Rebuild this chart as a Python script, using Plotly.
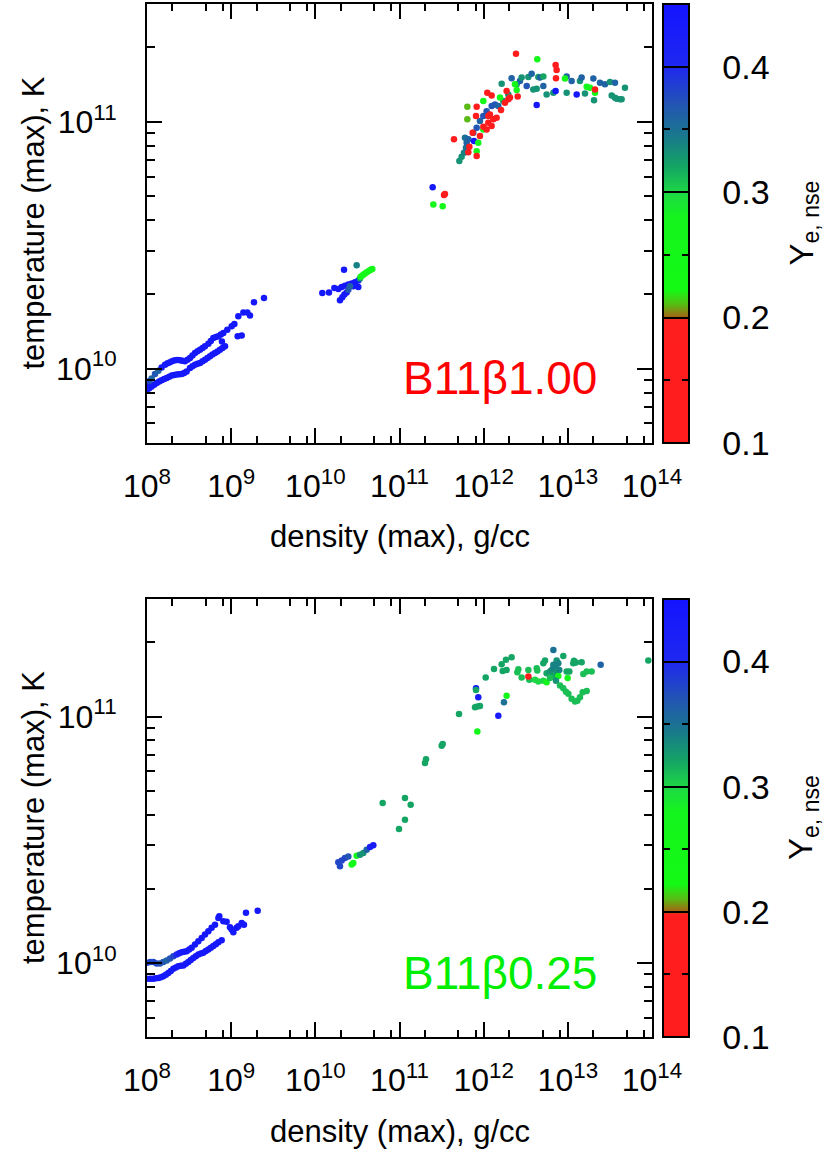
import numpy as np
import plotly.graph_objects as go

W, H = 830, 1151
FONT = "Liberation Sans, Arial, Helvetica, sans-serif"

# ---------------- data: (log10 density [g/cc], log10 temperature [K], Ye_nse) -------------
# Top panel: B11beta1.00
top_low_loop = [
    (8.000, 9.915, 0.44), (8.027, 9.921, 0.44), (8.055, 9.928, 0.44), (8.085, 9.935, 0.44),
    (8.115, 9.942, 0.44), (8.145, 9.948, 0.44), (8.174, 9.953, 0.44), (8.204, 9.958, 0.44),
    (8.234, 9.962, 0.44), (8.264, 9.967, 0.44), (8.293, 9.972, 0.44), (8.322, 9.974, 0.44),
    (8.352, 9.976, 0.44), (8.382, 9.977, 0.44), (8.412, 9.978, 0.44), (8.441, 9.983, 0.44),
    (8.471, 9.989, 0.44), (8.511, 10.003, 0.44), (8.540, 10.010, 0.44), (8.570, 10.016, 0.44),
    (8.600, 10.020, 0.44), (8.630, 10.023, 0.44), (8.660, 10.030, 0.44), (8.689, 10.036, 0.44),
    (8.719, 10.043, 0.44), (8.749, 10.050, 0.44), (8.778, 10.057, 0.44), (8.808, 10.064, 0.44),
    (8.838, 10.070, 0.44), (8.867, 10.077, 0.44), (8.897, 10.084, 0.44), (8.927, 10.091, 0.44),
    (8.890, 10.110, 0.44),
    (8.010, 9.935, 0.44), (8.030, 9.950, 0.38), (8.055, 9.960, 0.36), (8.095, 9.978, 0.37),
    (8.135, 9.992, 0.36), (8.174, 10.005, 0.44), (8.214, 10.016, 0.44), (8.244, 10.022, 0.44),
    (8.273, 10.026, 0.44), (8.303, 10.031, 0.44), (8.333, 10.034, 0.44), (8.362, 10.035, 0.44),
    (8.392, 10.034, 0.44), (8.421, 10.032, 0.44), (8.451, 10.030, 0.44), (8.481, 10.036, 0.44),
    (8.511, 10.043, 0.44), (8.540, 10.053, 0.44), (8.570, 10.064, 0.44), (8.600, 10.071, 0.44),
    (8.630, 10.077, 0.44), (8.660, 10.084, 0.44), (8.689, 10.091, 0.44), (8.729, 10.101, 0.44),
    (8.758, 10.112, 0.44), (8.788, 10.124, 0.44), (8.818, 10.128, 0.44), (8.848, 10.131, 0.44),
    (8.877, 10.138, 0.44), (8.907, 10.145, 0.44), (8.954, 10.158, 0.44), (9.006, 10.172, 0.44),
    (9.038, 10.181, 0.44), (9.085, 10.212, 0.44), (9.145, 10.228, 0.44), (9.192, 10.228, 0.44),
    (9.224, 10.215, 0.44), (9.271, 10.269, 0.44), (9.390, 10.286, 0.44),
    (9.077, 10.131, 0.44), (9.125, 10.134, 0.44),
]
top_mid = [
    (10.083, 10.307, 0.44), (10.162, 10.309, 0.44), (10.226, 10.327, 0.44), (10.273, 10.323, 0.44),
    (10.313, 10.331, 0.44), (10.352, 10.336, 0.44), (10.392, 10.341, 0.44), (10.432, 10.345, 0.44),
    (10.471, 10.350, 0.44), (10.511, 10.357, 0.44), (10.293, 10.277, 0.44), (10.321, 10.289, 0.44),
    (10.345, 10.300, 0.44), (10.372, 10.309, 0.44), (10.341, 10.401, 0.44), (10.511, 10.331, 0.44),
    (10.451, 10.334, 0.44),
    (10.491, 10.419, 0.34), (10.392, 10.320, 0.37), (10.412, 10.334, 0.36), (10.530, 10.365, 0.33),
    (10.539, 10.372, 0.25), (10.562, 10.378, 0.25), (10.586, 10.385, 0.25), (10.610, 10.391, 0.25),
    (10.634, 10.396, 0.25), (10.657, 10.401, 0.25), (10.677, 10.404, 0.25),
    (11.394, 10.735, 0.44), (11.402, 10.665, 0.25),
]
top_band = [
    (11.711, 10.841, 0.33), (11.738, 10.858, 0.33), (11.766, 10.875, 0.34), (11.790, 10.895, 0.35),
    (11.778, 10.935, 0.35), (11.798, 10.915, 0.36), (11.818, 10.929, 0.36), (11.877, 10.956, 0.36),
    (11.917, 10.976, 0.37), (11.956, 11.003, 0.36), (11.996, 11.023, 0.37), (12.035, 11.043, 0.37),
    (12.095, 11.064, 0.37), (12.134, 11.070, 0.37), (12.174, 11.064, 0.36), (12.214, 11.154, 0.33),
    (12.233, 11.084, 0.33), (12.293, 11.111, 0.33), (12.332, 11.176, 0.36), (12.392, 11.152, 0.33),
    (12.431, 11.165, 0.36), (12.451, 11.179, 0.33), (12.511, 11.145, 0.37), (12.531, 11.181, 0.33),
    (12.570, 11.195, 0.36), (12.590, 11.131, 0.33), (12.630, 11.134, 0.33), (12.649, 11.181, 0.32),
    (12.669, 11.179, 0.36), (12.709, 11.183, 0.32), (12.709, 11.145, 0.36), (12.748, 11.111, 0.33),
    (12.828, 11.118, 0.33), (12.986, 11.183, 0.36), (13.045, 11.165, 0.36), (12.986, 11.118, 0.33),
    (13.144, 11.165, 0.33), (13.164, 11.179, 0.36), (13.204, 11.115, 0.33), (13.303, 11.175, 0.36),
    (13.311, 11.087, 0.33), (13.382, 11.158, 0.36), (13.441, 11.152, 0.36), (13.501, 11.161, 0.33),
    (13.521, 11.107, 0.33), (13.560, 11.158, 0.36), (13.580, 11.093, 0.33), (13.639, 11.091, 0.33),
    (13.679, 11.138, 0.33), (13.560, 11.097, 0.33), (13.620, 11.091, 0.33),
]
top_blue_green = [
    (12.630, 11.068, 0.44), (12.855, 11.125, 0.44), (13.105, 11.111, 0.44), (11.885, 10.922, 0.44),
    (11.806, 11.061, 0.21), (11.806, 11.010, 0.21),
    (12.637, 11.253, 0.25), (11.996, 11.084, 0.25), (11.917, 10.881, 0.25), (11.936, 10.915, 0.25),
    (11.996, 10.969, 0.25), (12.372, 11.152, 0.25), (12.392, 11.129, 0.25), (12.194, 11.098, 0.25),
    (12.966, 11.175, 0.25), (13.224, 11.142, 0.25), (13.263, 11.138, 0.25), (13.323, 11.118, 0.25),
    (11.513, 10.658, 0.25),
]
top_red = [
    (12.384, 11.276, 0.12), (11.647, 10.929, 0.12), (11.529, 10.703, 0.12), (11.540, 10.708, 0.12),
    (11.917, 11.061, 0.12), (11.909, 11.023, 0.12), (12.043, 11.118, 0.12), (12.095, 11.107, 0.12),
    (11.869, 10.956, 0.12), (11.830, 10.899, 0.12), (11.818, 10.877, 0.12), (11.917, 10.861, 0.12),
    (11.956, 10.942, 0.12), (12.075, 11.030, 0.12), (12.115, 11.010, 0.12), (12.055, 10.996, 0.12),
    (12.035, 10.969, 0.12), (11.996, 10.980, 0.12), (12.095, 10.983, 0.12), (12.055, 11.023, 0.12),
    (12.154, 11.016, 0.12), (12.206, 11.048, 0.12), (12.253, 11.077, 0.12), (12.293, 11.091, 0.12),
    (12.313, 11.098, 0.12), (12.273, 11.125, 0.12), (12.404, 11.102, 0.12), (12.855, 11.230, 0.12),
    (12.867, 11.210, 0.12), (12.859, 11.176, 0.12), (13.323, 11.131, 0.12),
]

# Bottom panel: B11beta0.25
bot_low_loop = [
    (8.000, 9.935, 0.44), (8.040, 9.935, 0.44), (8.075, 9.935, 0.44), (8.105, 9.937, 0.44),
    (8.135, 9.939, 0.44), (8.165, 9.942, 0.44), (8.194, 9.946, 0.44), (8.224, 9.952, 0.44),
    (8.253, 9.959, 0.44), (8.283, 9.967, 0.44), (8.313, 9.976, 0.44), (8.342, 9.981, 0.44),
    (8.372, 9.986, 0.44), (8.402, 9.988, 0.44), (8.432, 9.989, 0.44), (8.461, 9.996, 0.44),
    (8.491, 10.003, 0.44), (8.520, 10.012, 0.44), (8.550, 10.020, 0.44), (8.580, 10.027, 0.44),
    (8.610, 10.034, 0.44), (8.640, 10.038, 0.44), (8.669, 10.041, 0.44), (8.699, 10.048, 0.44),
    (8.729, 10.054, 0.44), (8.758, 10.061, 0.44), (8.788, 10.068, 0.44), (8.818, 10.076, 0.44),
    (8.848, 10.084, 0.44), (8.887, 10.092, 0.44),
    (8.000, 10.000, 0.39), (8.040, 10.003, 0.38), (8.075, 10.003, 0.38), (8.115, 9.997, 0.38),
    (8.154, 9.997, 0.37), (8.194, 10.003, 0.37), (8.234, 10.010, 0.36), (8.273, 10.018, 0.37),
    (8.313, 10.027, 0.38), (8.352, 10.034, 0.40), (8.382, 10.039, 0.42), (8.412, 10.043, 0.43),
    (8.441, 10.045, 0.44), (8.471, 10.047, 0.44), (8.501, 10.054, 0.44), (8.531, 10.061, 0.44),
    (8.570, 10.074, 0.44), (8.610, 10.088, 0.44), (8.650, 10.101, 0.44), (8.689, 10.115, 0.44),
    (8.729, 10.128, 0.44), (8.768, 10.142, 0.44), (8.808, 10.155, 0.44), (8.848, 10.182, 0.44),
    (8.859, 10.189, 0.44), (8.907, 10.169, 0.44), (8.946, 10.167, 0.44), (8.986, 10.145, 0.44),
    (9.006, 10.135, 0.44), (9.026, 10.124, 0.44), (9.065, 10.142, 0.44), (9.085, 10.149, 0.44),
    (9.125, 10.162, 0.44), (9.152, 10.155, 0.44), (9.176, 10.203, 0.44), (9.315, 10.212, 0.44),
]
bot_mid = [
    (10.273, 10.408, 0.38), (10.293, 10.392, 0.38), (10.313, 10.416, 0.38), (10.352, 10.426, 0.38),
    (10.392, 10.432, 0.37), (10.432, 10.399, 0.25), (10.451, 10.405, 0.25), (10.491, 10.435, 0.25),
    (10.531, 10.439, 0.33), (10.570, 10.446, 0.33), (10.610, 10.459, 0.36), (10.650, 10.470, 0.42),
    (10.689, 10.477, 0.43),
    (10.800, 10.649, 0.32), (11.065, 10.669, 0.32), (11.133, 10.642, 0.32), (11.065, 10.581, 0.32),
    (10.994, 10.543, 0.32), (11.303, 10.811, 0.32), (11.315, 10.827, 0.32), (11.501, 10.881, 0.32),
    (11.513, 10.888, 0.32),
]
bot_high = [
    (11.707, 11.010, 0.32), (11.897, 11.038, 0.32), (11.925, 11.041, 0.32), (11.956, 11.043, 0.32),
    (11.909, 11.115, 0.44), (11.909, 11.108, 0.32), (11.936, 11.078, 0.43), (11.925, 10.939, 0.26),
    (12.024, 11.158, 0.32), (12.123, 11.193, 0.32), (12.214, 11.212, 0.32), (12.265, 11.230, 0.32),
    (12.332, 11.241, 0.32), (12.226, 11.185, 0.32), (12.273, 11.189, 0.32), (12.273, 11.084, 0.26),
    (12.241, 11.058, 0.35), (12.174, 11.003, 0.43), (12.412, 11.192, 0.31), (12.400, 11.180, 0.31),
    (12.451, 11.158, 0.31), (12.531, 11.189, 0.31), (12.542, 11.149, 0.31), (12.610, 11.149, 0.30),
    (12.649, 11.142, 0.30), (12.709, 11.145, 0.30), (12.748, 11.139, 0.28), (12.630, 11.196, 0.31),
    (12.637, 11.187, 0.31), (12.709, 11.216, 0.32), (12.729, 11.227, 0.32), (12.748, 11.176, 0.32),
    (12.788, 11.183, 0.33), (12.808, 11.189, 0.33), (12.828, 11.196, 0.34), (12.859, 11.203, 0.34),
    (12.867, 11.227, 0.33), (12.887, 11.216, 0.34), (12.847, 11.169, 0.32), (12.820, 11.162, 0.32),
    (12.788, 11.156, 0.31), (12.828, 11.210, 0.34), (12.875, 11.183, 0.33), (12.899, 11.189, 0.34),
    (12.828, 11.270, 0.35), (12.946, 11.246, 0.32), (12.887, 11.165, 0.27), (12.859, 11.145, 0.33),
    (12.907, 11.126, 0.31), (12.946, 11.115, 0.31), (12.978, 11.101, 0.31), (13.006, 11.092, 0.31),
    (13.045, 11.072, 0.31), (13.085, 11.061, 0.31), (13.113, 11.064, 0.31), (13.144, 11.078, 0.31),
    (13.176, 11.099, 0.31), (13.224, 11.104, 0.31), (12.998, 11.156, 0.27), (12.986, 11.183, 0.32),
    (13.018, 11.183, 0.32), (13.065, 11.216, 0.32), (13.097, 11.219, 0.32), (13.164, 11.220, 0.32),
    (13.073, 11.226, 0.32), (13.184, 11.173, 0.31), (13.224, 11.183, 0.31), (13.283, 11.183, 0.31),
    (13.390, 11.210, 0.36), (13.956, 11.227, 0.32),
    (12.531, 11.162, 0.12),
]

x_tick_vals = [1e8, 1e9, 1e10, 1e11, 1e12, 1e13, 1e14]
x_tick_text = ["10<sup>8</sup>", "10<sup>9</sup>", "10<sup>10</sup>", "10<sup>11</sup>",
               "10<sup>12</sup>", "10<sup>13</sup>", "10<sup>14</sup>"]
y_tick_vals = [1e10, 1e11]
y_tick_text = ["10<sup>10</sup>", "10<sup>11</sup>"]
cb_tick_vals = [0.1, 0.2, 0.3, 0.4]
cb_tick_text = ["0.1", "0.2", "0.3", "0.4"]
cb_minor_vals = [0.15, 0.25, 0.35]
CMIN, CMAX = 0.1, 0.45

colorscale = [
    [0.000, "rgb(255,28,28)"],
    [0.280, "rgb(255,30,30)"],
    [0.2857, "rgb(170,95,20)"],
    [0.314, "rgb(90,185,20)"],
    [0.349, "rgb(20,250,20)"],
    [0.514, "rgb(20,245,30)"],
    [0.571, "rgb(30,215,70)"],
    [0.629, "rgb(20,165,100)"],
    [0.700, "rgb(25,120,140)"],
    [0.771, "rgb(35,85,180)"],
    [0.857, "rgb(30,40,240)"],
    [1.000, "rgb(20,20,255)"],
]
clear_scale = [[0, "rgba(0,0,0,0)"], [1, "rgba(0,0,0,0)"]]

# -------------------------- layout geometry (pixels) --------------------------
PL, PR = 147, 652
CBL, CBR = 663, 689
panels = [
    dict(pts=top_low_loop + top_mid + top_band + top_blue_green + top_red,
         top=4, bottom=443, label="B11β1.00", lcolor="#ff0000"),
    dict(pts=bot_low_loop + bot_mid + bot_high,
         top=599, bottom=1037, label="B11β0.25", lcolor="#00ee00"),
]

x_minor = [m * 10.0 ** e for e in range(8, 14) for m in (2, 5, 8)]
y_minor = [m * 10.0 ** e for e in range(9, 12) for m in range(2, 10)]

fig = go.Figure()
annotations = []
for i, p in enumerate(panels):
    n = "" if i == 0 else str(i + 1)
    arr = np.array(p["pts"])
    y0 = 1 - p["bottom"] / H
    y1 = 1 - p["top"] / H
    cb_base = dict(y=y0, yanchor="bottom", len=y1 - y0, lenmode="fraction",
                   thicknessmode="pixels", xpad=0, ypad=0, xanchor="left")
    fig.add_trace(go.Scatter(
        x=10.0 ** arr[:, 0], y=10.0 ** arr[:, 1], mode="markers",
        xaxis="x" + n, yaxis="y" + n, showlegend=False, hoverinfo="skip",
        marker=dict(size=6.5, color=arr[:, 2], colorscale=colorscale, cmin=CMIN, cmax=CMAX,
                    line=dict(width=0), showscale=True,
                    colorbar=dict(cb_base, x=CBL / W, thickness=CBR - CBL,
                                  outlinewidth=2, outlinecolor="black",
                                  ticks="outside", ticklen=26, tickcolor="rgba(0,0,0,0)",
                                  tickvals=cb_tick_vals, ticktext=cb_tick_text,
                                  tickfont=dict(family=FONT, size=34, color="black"))),
    ))
    # transparent overlay colour bars that only draw the tick marks inside the bar
    overlays = [
        (CBL, CBR - CBL, cb_tick_vals[1:], CBR - CBL),   # major ticks, full width
        (CBL, CBR - CBL, cb_minor_vals, 7),              # minor ticks, right side
        (CBL, 7, cb_minor_vals, 7),                      # minor ticks, left side
    ]
    for xl, th, tv, tl in overlays:
        fig.add_trace(go.Scatter(
            x=[None], y=[None], mode="markers", xaxis="x" + n, yaxis="y" + n,
            showlegend=False, hoverinfo="skip",
            marker=dict(color=[CMIN], colorscale=clear_scale, cmin=CMIN, cmax=CMAX,
                        showscale=True,
                        colorbar=dict(cb_base, x=xl / W, thickness=th, outlinewidth=0,
                                      ticks="inside", ticklen=tl, tickwidth=2,
                                      tickcolor="black", tickvals=tv, showticklabels=False)),
        ))
    common = dict(showline=True, linewidth=2, linecolor="black", mirror="ticks",
                  ticks="inside", tickwidth=2, tickcolor="black", ticklen=15,
                  showgrid=False, zeroline=False, type="log", automargin=False,
                  tickfont=dict(family=FONT, size=32, color="black"))
    fig.update_layout(**{
        "xaxis" + n: dict(common, domain=[PL / W, PR / W], range=[8, 14], anchor="y" + n,
                          tickvals=x_tick_vals, ticktext=x_tick_text, ticklabelstandoff=14,
                          minor=dict(ticks="inside", ticklen=7, tickwidth=2, tickcolor="black",
                                     tickvals=x_minor, showgrid=False)),
        "yaxis" + n: dict(common, domain=[y0, y1], range=[np.log10(5e9), np.log10(3e11)],
                          anchor="x" + n, tickvals=y_tick_vals, ticktext=y_tick_text,
                          ticklabelstandoff=22,
                          minor=dict(ticks="inside", ticklen=8, tickwidth=2, tickcolor="black",
                                     tickvals=y_minor, showgrid=False)),
    })
    mid = 1 - (p["top"] + p["bottom"]) / 2 / H
    annotations += [
        dict(text=p["label"], xref="paper", yref="paper", x=401 / W, xanchor="left",
             y=1 - (p["top"] + 374) / H, yanchor="middle", showarrow=False,
             font=dict(family=FONT, size=46, color=p["lcolor"])),
        dict(text="density (max), g/cc", xref="paper", yref="paper",
             x=(PL + PR) / 2 / W, xanchor="center", y=1 - (p["top"] + 532) / H,
             yanchor="middle", showarrow=False, font=dict(family=FONT, size=31, color="black")),
        dict(text="temperature (max), K", xref="paper", yref="paper", x=33 / W,
             xanchor="center", y=mid, yanchor="middle", textangle=-90, showarrow=False,
             font=dict(family=FONT, size=31, color="black")),
        dict(text="Y<sub>e, nse</sub>", xref="paper", yref="paper", x=803 / W,
             xanchor="center", y=mid, yanchor="middle", textangle=-90, showarrow=False,
             font=dict(family=FONT, size=33, color="black")),
    ]

fig.update_layout(width=W, height=H, margin=dict(l=0, r=0, t=0, b=0, autoexpand=False),
                  plot_bgcolor="white", paper_bgcolor="white",
                  annotations=annotations)
fig.write_html("out.html", config={"displayModeBar": False},
               post_script="document.body.style.margin='0';")
